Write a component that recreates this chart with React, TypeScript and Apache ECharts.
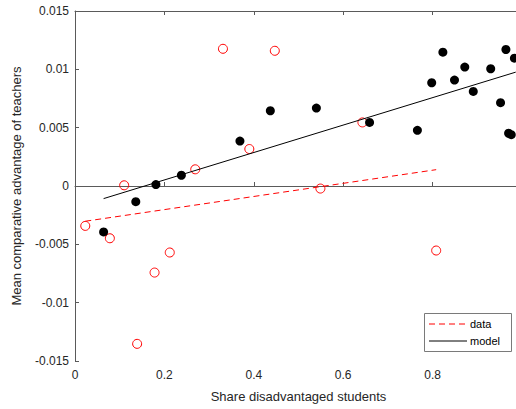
import React, { useEffect, useRef } from "react";
import * as echarts from "echarts";

const dataX = [0.023, 0.078, 0.110, 0.139, 0.178, 0.212, 0.269, 0.331, 0.390, 0.447, 0.549, 0.643, 0.808];
const dataY = [-0.00342, -0.00448, 0.00006, -0.01353, -0.00742, -0.0057, 0.00143, 0.01176, 0.00317, 0.01159, -0.00022, 0.00545, -0.00553];

const modelX = [0.064, 0.136, 0.181, 0.238, 0.369, 0.437, 0.540, 0.659, 0.766, 0.798, 0.823, 0.849, 0.872, 0.891, 0.930, 0.952, 0.964, 0.970, 0.976, 0.983];
const modelY = [-0.00394, -0.00134, 0.00012, 0.00092, 0.00385, 0.00645, 0.00668, 0.00545, 0.00477, 0.00885, 0.01147, 0.00908, 0.01019, 0.00811, 0.01005, 0.00714, 0.0117, 0.00452, 0.0044, 0.01096];

const dataFitX = [0.023, 0.808];
const dataFitY = [-0.00302, 0.0014];
const modelFitX = [0.064, 0.986];
const modelFitY = [-0.00108, 0.00976];

const legendNames = ["data", "model"];

const xTicks = { min: 0, max: 1, interval: 0.2 };
const yTicks = { min: -0.015, max: 0.015, interval: 0.005 };

const zip = (xs: number[], ys: number[]) => xs.map((x, i) => [x, ys[i]]);

export default function App() {
  const ref = useRef<HTMLDivElement>(null);
  useEffect(() => {
    if (!ref.current) return;
    const chart = echarts.init(ref.current, null, { renderer: "svg" });
    const axisColor = "#5a5a5a";
    const font = "Liberation Sans, Arial, sans-serif";
    const legendLeft = 424;
    const legendTop = 313;
    chart.setOption({
      animation: false,
      textStyle: { fontFamily: font },
      grid: { left: 75, width: 447, top: 11, height: 350, containLabel: false, outerBoundsMode: "none" },
      xAxis: [
        {
          type: "value",
          min: xTicks.min,
          max: xTicks.max,
          interval: xTicks.interval,
          name: "Share disadvantaged students",
          nameLocation: "middle",
          nameGap: 29,
          nameTextStyle: { fontSize: 13, color: "#262626", fontFamily: font },
          axisLine: { show: true, lineStyle: { color: axisColor, width: 1 } },
          axisTick: { show: true, inside: true, length: 4, lineStyle: { color: axisColor } },
          axisLabel: { fontSize: 12, color: "#262626", margin: 8, fontFamily: font, showMaxLabel: false },
          splitLine: { show: false },
        },
        {
          type: "value",
          position: "top",
          min: xTicks.min,
          max: xTicks.max,
          interval: xTicks.interval,
          axisLine: { show: true, lineStyle: { color: axisColor, width: 1 } },
          axisTick: { show: true, inside: true, length: 4, lineStyle: { color: axisColor } },
          axisLabel: { show: false },
          splitLine: { show: false },
        },
      ],
      yAxis: [
        {
          type: "value",
          min: yTicks.min,
          max: yTicks.max,
          interval: yTicks.interval,
          name: "Mean comparative advantage of teachers",
          nameLocation: "middle",
          nameGap: 52,
          nameTextStyle: { fontSize: 13, color: "#262626", fontFamily: font },
          axisLine: { show: true, lineStyle: { color: axisColor, width: 1 } },
          axisTick: { show: true, inside: true, length: 4, lineStyle: { color: axisColor } },
          axisLabel: { fontSize: 12, color: "#262626", margin: 6, fontFamily: font },
          splitLine: { show: false },
        },
      ],
      graphic: [
        {
          type: "rect",
          left: legendLeft,
          top: legendTop,
          shape: { width: 87, height: 38 },
          style: { fill: "#ffffff", stroke: "#7a7a7a", lineWidth: 1 },
          z: 10,
        },
        {
          type: "line",
          shape: { x1: legendLeft + 5, y1: legendTop + 11, x2: legendLeft + 43, y2: legendTop + 11 },
          style: { stroke: "#ff0000", lineWidth: 1, lineDash: [6, 4] },
          z: 11,
        },
        {
          type: "text",
          x: legendLeft + 46,
          y: legendTop + 11,
          style: { text: legendNames[0], fontSize: 11, fill: "#000", fontFamily: font, verticalAlign: "middle" },
          z: 11,
        },
        {
          type: "line",
          shape: { x1: legendLeft + 5, y1: legendTop + 28, x2: legendLeft + 43, y2: legendTop + 28 },
          style: { stroke: "#000000", lineWidth: 1 },
          z: 11,
        },
        {
          type: "text",
          x: legendLeft + 46,
          y: legendTop + 28,
          style: { text: legendNames[1], fontSize: 11, fill: "#000", fontFamily: font, verticalAlign: "middle" },
          z: 11,
        },
      ],
      series: [
        {
          name: "data points",
          type: "scatter",
          data: zip(dataX, dataY),
          symbol: "circle",
          symbolSize: 9,
          itemStyle: { color: "rgba(0,0,0,0)", borderColor: "#ff0000", borderWidth: 1, opacity: 1 },
          z: 2,
        },
        {
          name: "model points",
          type: "scatter",
          data: zip(modelX, modelY),
          symbol: "circle",
          symbolSize: 9,
          itemStyle: { color: "#000000", opacity: 1 },
          z: 3,
        },
        {
          name: legendNames[0],
          type: "line",
          data: zip(dataFitX, dataFitY),
          showSymbol: false,
          symbol: "none",
          lineStyle: { color: "#ff0000", width: 1, type: [6, 4] },
          z: 4,
        },
        {
          name: legendNames[1],
          type: "line",
          data: zip(modelFitX, modelFitY),
          showSymbol: false,
          symbol: "none",
          lineStyle: { color: "#000000", width: 1 },
          z: 4,
        },
      ],
    });
    return () => chart.dispose();
  }, []);
  return <div ref={ref} style={{ width: 516, height: 409, position: "absolute", left: 0, top: 0 }} />;
}
